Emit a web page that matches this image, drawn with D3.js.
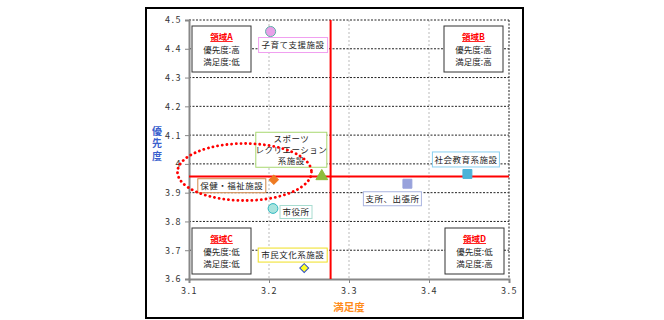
<!DOCTYPE html>
<html><head><meta charset="utf-8">
<script src="https://cdn.jsdelivr.net/npm/d3@7"></script>
<style>body{margin:0;background:#fff}svg{display:block}</style>
</head><body><svg id="c" width="664" height="320"></svg>
<script>
const names = ["子育て支援施設","スポーツ・レクリエーション系施設","保健・福祉施設","市役所","社会教育系施設","支所、出張所","市民文化系施設"];
const satisfaction = [3.202, 3.266, 3.206, 3.205, 3.448, 3.373, 3.244];
const priority = [4.460, 3.957, 3.945, 3.845, 3.965, 3.931, 3.638];
const meanX = 3.277, meanY = 3.956;
const xTicks = [3.1,3.2,3.3,3.4,3.5];
const yTicks = [3.6,3.7,3.8,3.9,4.0,4.1,4.2,4.3,4.4,4.5];
const yTickLabels = ["3.6","3.7","3.8","3.9","4","4.1","4.2","4.3","4.4","4.5"];
const zones = [
  {name:"領域A", l1:"優先度:高", l2:"満足度:低"},
  {name:"領域B", l1:"優先度:高", l2:"満足度:高"},
  {name:"領域C", l1:"優先度:低", l2:"満足度:低"},
  {name:"領域D", l1:"優先度:低", l2:"満足度:高"}
];

const svg = d3.select("#c");
const font = "'Noto Sans CJK JP', 'Noto Sans', sans-serif";
const L=189, R=509, T=20, B=279;
const x = d3.scaleLinear().domain([3.1,3.5]).range([L,R]);
const y = d3.scaleLinear().domain([3.6,4.5]).range([B,T]);

// outer frame
svg.append("rect").attr("x",146).attr("y",8).attr("width",377).attr("height",310)
  .attr("fill","#fff").attr("stroke","#000").attr("stroke-width",2);

// vertical grid
svg.append("g").selectAll("line").data(xTicks.slice(1,-1)).join("line")
  .attr("x1",d=>x(d)).attr("x2",d=>x(d)).attr("y1",T).attr("y2",B)
  .attr("stroke","#bbb").attr("stroke-width",1).attr("stroke-dasharray","2,2");
// horizontal grid
svg.append("g").selectAll("line").data(yTicks.slice(1)).join("line")
  .attr("x1",L).attr("x2",R).attr("y1",d=>y(d)).attr("y2",d=>y(d))
  .attr("stroke","#222").attr("stroke-width",1).attr("stroke-dasharray","2,1.5");
// right border dotted
svg.append("line").attr("x1",R).attr("x2",R).attr("y1",T).attr("y2",B)
  .attr("stroke","#444").attr("stroke-width",1.2).attr("stroke-dasharray","2,1.5");

// axes
const yAxis = d3.axisLeft(y).tickValues(yTicks).tickFormat((d,i)=>yTickLabels[i]).tickSize(4).tickPadding(3);
const gy = svg.append("g").attr("transform",`translate(${L},0)`).call(yAxis);
const xAxis = d3.axisBottom(x).tickValues(xTicks).tickFormat(d3.format(".1f")).tickSize(4).tickPadding(5);
const gx = svg.append("g").attr("transform",`translate(0,${B})`).call(xAxis);
[gx,gy].forEach(g=>{
  g.select(".domain").attr("stroke","#888").attr("stroke-width",2);
  g.selectAll(".tick line").attr("stroke","#888");
  g.selectAll("text").attr("font-family",font).attr("font-size",9).attr("fill","#333").attr("letter-spacing","1.5px");
});

// mean lines
svg.append("line").attr("x1",x(meanX)).attr("x2",x(meanX)).attr("y1",T).attr("y2",B)
  .attr("stroke","#ff0000").attr("stroke-width",2);
svg.append("line").attr("x1",L).attr("x2",R).attr("y1",y(meanY)).attr("y2",y(meanY))
  .attr("stroke","#ff0000").attr("stroke-width",2);

// axis titles
svg.append("text").attr("x",157).attr("y",126)
  .attr("font-family",font).attr("font-size",10).attr("font-weight","bold")
  .attr("fill","#3a5fcd").style("writing-mode","vertical-rl").style("text-orientation","upright")
  .attr("letter-spacing","2.5px").text("優先度");
svg.append("text").attr("x",(L+R)/2).attr("y",311).attr("text-anchor","middle")
  .attr("font-family",font).attr("font-size",10.5).attr("font-weight","bold").attr("fill","#ff8c1a").text("満足度");

// zone boxes
const zonePos = [[192,26],[444,26],[192,228],[445,228]];
zones.forEach((z,i)=>{
  const [bx,by]=zonePos[i];
  const g=svg.append("g").attr("transform",`translate(${bx},${by})`);
  g.append("rect").attr("width",59).attr("height",46).attr("fill","#fff").attr("stroke","#333").attr("stroke-width",1);
  g.append("text").attr("x",29.5).attr("y",14).attr("text-anchor","middle").attr("font-family",font)
    .attr("font-size",8.5).attr("font-weight","bold").attr("fill","#ff0000").attr("text-decoration","underline").text(z.name);
  g.append("text").attr("x",29.5).attr("y",27).attr("text-anchor","middle").attr("font-family",font)
    .attr("font-size",8.5).attr("fill","#222").text(z.l1);
  g.append("text").attr("x",29.5).attr("y",39).attr("text-anchor","middle").attr("font-family",font)
    .attr("font-size",8.5).attr("fill","#222").text(z.l2);
});

// markers (diamond = square rotated 45°)
const markers = [
  {sym:d3.symbolCircle, size:80, rot:0, fill:"#e8a0e8", stroke:"#5fb0a8"},
  {sym:d3.symbolTriangle, size:60, rot:0, fill:"#8fbc3a", stroke:"#8fbc3a"},
  {sym:d3.symbolSquare, size:42, rot:45, fill:"#ee7a22", stroke:"#ee7a22"},
  {sym:d3.symbolCircle, size:75, rot:0, fill:"#a8e4de", stroke:"#30b8c0"},
  {sym:d3.symbolSquare, size:80, rot:0, fill:"#4ab3d8", stroke:"#4ab3d8"},
  {sym:d3.symbolSquare, size:80, rot:0, fill:"#98a2dc", stroke:"#98a2dc"},
  {sym:d3.symbolSquare, size:40, rot:45, fill:"#ffff22", stroke:"#3050c8"}
];
// labels (offsets relative to points)
const labelBoxes = [
  {dx:-12, dy:6, w:69, h:15, stroke:"#f0a0f0", lines:["子育て支援施設"]},
  {dx:-66, dy:-44, w:71, h:35, stroke:"#a8d870", lines:["スポーツ","レクリエーション","系施設"]},
  {dx:-76, dy:-1, w:68, h:14, stroke:"#d08848", lines:["保健・福祉施設"]},
  {dx:7, dy:-3, w:32, h:13, stroke:"#a8dcd0", lines:["市役所"]},
  {dx:-35, dy:-22, w:67, h:15, stroke:"#88d0f0", lines:["社会教育系施設"]},
  {dx:-44, dy:8, w:58, h:14, stroke:"#aab4e0", lines:["支所、出張所"]},
  {dx:-46, dy:-20, w:69, h:14, stroke:"#f0e020", lines:["市民文化系施設"]}
];
labelBoxes.forEach((lb,i)=>{
  const px=x(satisfaction[i]), py=y(priority[i]);
  const g=svg.append("g").attr("transform",`translate(${px+lb.dx},${py+lb.dy})`);
  g.append("rect").attr("width",lb.w).attr("height",lb.h).attr("fill","#fff").attr("stroke",lb.stroke).attr("stroke-width",1);
  lb.lines.forEach((t,j)=>{
    g.append("text").attr("x",lb.w/2).attr("y",lb.h/2+3.2+(j-(lb.lines.length-1)/2)*11).attr("text-anchor","middle")
      .attr("font-family",font).attr("font-size",8.5).attr("fill","#222").attr("letter-spacing","0.5px").text(t);
  });
});
svg.append("g").selectAll("path").data(names).join("path")
  .attr("transform",(d,i)=>`translate(${x(satisfaction[i])},${y(priority[i])}) rotate(${markers[i].rot})`)
  .attr("d",(d,i)=>d3.symbol(markers[i].sym,markers[i].size)())
  .attr("fill",(d,i)=>markers[i].fill).attr("stroke",(d,i)=>markers[i].stroke).attr("stroke-width",1);

// dotted ellipse highlight
svg.append("ellipse").attr("cx",244.5).attr("cy",172).attr("rx",67).attr("ry",28.5)
  .attr("fill","none").attr("stroke","#ff0000").attr("stroke-width",2.8)
  .attr("stroke-dasharray","0.1,4.6").attr("stroke-linecap","round");
</script></body></html>
